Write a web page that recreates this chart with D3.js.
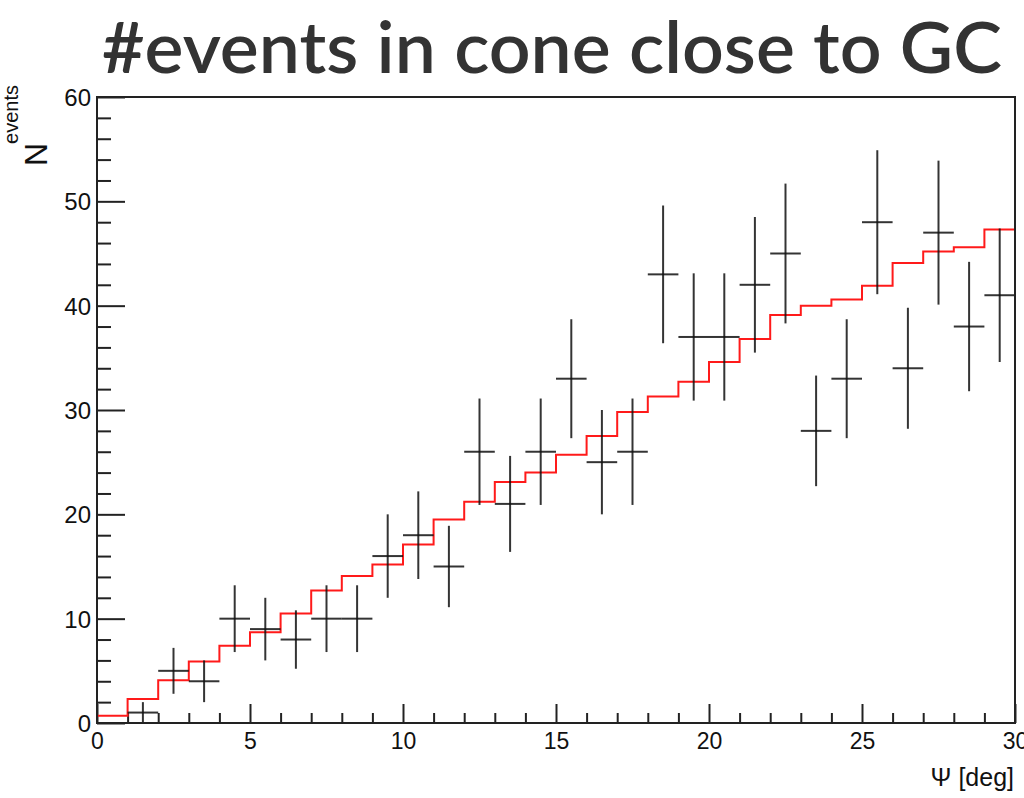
<!DOCTYPE html>
<html>
<head>
<meta charset="utf-8">
<script src="https://cdn.jsdelivr.net/npm/d3@7/dist/d3.min.js"></script>
<style>
  html, body { margin: 0; padding: 0; background: #fff; }
  svg { display: block; }
  .tick text { font-family: "Liberation Sans", Arial, sans-serif; fill: #111; }
</style>
</head>
<body>
<svg id="chart" width="1024" height="798"></svg>
<script>
// Lower edges of the 1-degree bins in Psi
const binEdges = [0,1,2,3,4,5,6,7,8,9,10,11,12,13,14,15,16,17,18,19,20,21,22,23,24,25,26,27,28,29];
// Observed event counts per bin
const observed = [0,1,5,4,10,9,8,10,10,16,18,15,26,21,26,33,25,26,43,37,37,42,45,28,33,48,34,47,38,41];
// Statistical error on each observed count
const obsError = [0,1,2.2,2,3.2,3,2.8,3.2,3.2,4,4.2,3.9,5.1,4.6,5.1,5.7,5,5.1,6.6,6.1,6.1,6.5,6.7,5.3,5.7,6.9,5.8,6.9,6.2,6.4];
// Expected counts (background model) per bin
const expected = [0.7,2.3,4.1,5.9,7.4,8.7,10.5,12.7,14.1,15.2,17.1,19.5,21.2,23.1,24.0,25.7,27.5,29.8,31.3,32.7,34.6,36.8,39.1,40.0,40.6,41.9,44.1,45.2,45.6,47.3];
// Axis ticks
const xMajorTicks = [0,5,10,15,20,25,30];
const yMajorTicks = [0,10,20,30,40,50,60];
const binWidth = 1;

const svg = d3.select("#chart");
const plotL = 97, plotR = 1015, plotT = 97, plotB = 723;

const x = d3.scaleLinear().domain([0, 30]).range([plotL, plotR]);
const y = d3.scaleLinear().domain([0, 60]).range([plotB, plotT]);

// Title
svg.append("text")
  .attr("x", 102).attr("y", 73)
  .attr("textLength", 900).attr("lengthAdjust", "spacingAndGlyphs")
  .style("font-family", "Lato, 'Open Sans', sans-serif")
  .style("font-weight", 600)
  .style("font-size", "72px")
  .style("fill", "#333")
  .text("#events in cone close to GC");

// Minor ticks
const yMinor = d3.range(0, 60.01, 2).filter(v => v % 10 !== 0);
const xMinor = d3.range(0, 30.01, 1).filter(v => v % 5 !== 0);

svg.append("g").attr("transform", `translate(${plotL},0)`)
  .call(d3.axisLeft(y).tickValues(yMinor).tickSize(-14).tickSizeOuter(0).tickFormat(""))
  .call(g => g.select(".domain").remove())
  .selectAll("line").attr("stroke", "#222").attr("stroke-width", 2);

svg.append("g").attr("transform", `translate(0,${plotB})`)
  .call(d3.axisBottom(x).tickValues(xMinor).tickSize(-10).tickSizeOuter(0).tickFormat(""))
  .call(g => g.select(".domain").remove())
  .selectAll("line").attr("stroke", "#222").attr("stroke-width", 2);

// Major ticks with labels
const yAxis = svg.append("g").attr("transform", `translate(${plotL},0)`)
  .call(d3.axisLeft(y).tickValues(yMajorTicks).tickSize(-28).tickSizeOuter(0).tickPadding(6).tickFormat(d3.format("d")))
  .call(g => g.select(".domain").remove());
yAxis.selectAll("line").attr("stroke", "#222").attr("stroke-width", 2);
yAxis.selectAll("text").style("font-size", "24px").attr("dy", "0.36em");

const xAxis = svg.append("g").attr("transform", `translate(0,${plotB})`)
  .call(d3.axisBottom(x).tickValues(xMajorTicks).tickSize(-19).tickSizeOuter(0).tickPadding(10).tickFormat(d3.format("d")))
  .call(g => g.select(".domain").remove());
xAxis.selectAll("line").attr("stroke", "#222").attr("stroke-width", 2);
xAxis.selectAll("text").style("font-size", "23px");

// Expected-count step histogram
const stepPts = binEdges.map((e, i) => [e, expected[i]]);
stepPts.push([binEdges[binEdges.length - 1] + binWidth, expected[expected.length - 1]]);
svg.append("path")
  .datum(stepPts)
  .attr("fill", "none")
  .attr("stroke", "#ff1a1a")
  .attr("stroke-width", 2)
  .attr("d", d3.line().x(d => x(d[0])).y(d => y(d[1])).curve(d3.curveStepAfter));

// Observed counts with error crosses (empty bins are not drawn)
const pts = binEdges.map((e, i) => ({ lo: e, hi: e + binWidth, c: e + binWidth / 2, v: observed[i], err: obsError[i] }))
  .filter(d => d.v > 0);
const crosses = svg.append("g").attr("stroke", "#111").attr("stroke-width", 2).attr("stroke-opacity", 0.85);
crosses.selectAll("line.h").data(pts).join("line").attr("class", "h")
  .attr("x1", d => x(d.lo)).attr("x2", d => x(d.hi))
  .attr("y1", d => y(d.v)).attr("y2", d => y(d.v));
crosses.selectAll("line.v").data(pts).join("line").attr("class", "v")
  .attr("x1", d => x(d.c)).attr("x2", d => x(d.c))
  .attr("y1", d => y(Math.max(0, d.v - d.err))).attr("y2", d => y(d.v + d.err));

// Frame
svg.append("rect")
  .attr("x", plotL).attr("y", plotT)
  .attr("width", plotR - plotL).attr("height", plotB - plotT)
  .attr("fill", "none").attr("stroke", "#222").attr("stroke-width", 2);

// Axis titles
const yTitle = svg.append("text")
  .attr("transform", "translate(47,166) rotate(-90)")
  .style("font-family", "'Liberation Sans', Arial, sans-serif")
  .style("fill", "#111");
yTitle.append("tspan").style("font-size", "32px").text("N");
yTitle.append("tspan").style("font-size", "20px").attr("dy", -29).attr("dx", -1).text("events");

svg.append("text")
  .attr("x", 1014).attr("y", 786)
  .attr("text-anchor", "end")
  .style("font-family", "'Liberation Sans', Arial, sans-serif")
  .style("font-size", "25px")
  .style("fill", "#111")
  .text("Ψ [deg]");
</script>
</body>
</html>
